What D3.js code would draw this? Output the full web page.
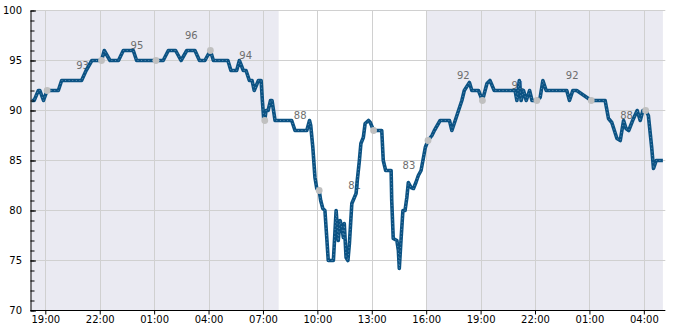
<!DOCTYPE html>
<html>
<head>
<meta charset="utf-8">
<script src="https://cdn.jsdelivr.net/npm/d3@7/dist/d3.min.js"></script>
<style>
body { margin: 0; background: #fff; }
svg text { font-family: "DejaVu Sans", sans-serif; }
</style>
</head>
<body>
<svg id="chart" width="685" height="330"></svg>
<script>
// readings as clock times, the day rolls over when the clock goes back past midnight
var times = ["18:15","18:23","18:37","18:42","18:54","19:06","19:43","19:54","21:00","21:15","21:34","22:06",
  "22:15","22:34","23:02","23:18","23:51","00:02","01:30","01:47","02:11","02:29","02:48","03:15","03:30",
  "03:48","04:06","04:16","05:04","05:14","05:33","05:42","05:55","06:04","06:15","06:24","06:31","06:45",
  "06:54","06:58","07:03","07:06","07:10","07:17","07:25","07:30","07:40","08:35","08:46","09:25","09:34",
  "09:38","09:45","09:52","09:58","10:06","10:11","10:18","10:25","10:31","10:36","10:53","11:02","11:06",
  "11:09","11:15","11:21","11:26","11:29","11:35","11:41","11:46","11:54","12:01","12:08","12:12","12:19",
  "12:24","12:32","12:38","12:49","12:55","13:06","13:33","13:38","13:46","14:04","14:06","14:11","14:23",
  "14:28","14:31","14:37","14:43","14:50","14:56","15:01","15:10","15:18","15:26","15:34","15:43","15:51",
  "15:57","16:06","16:19","16:27","16:46","17:17","17:25","17:36","17:47","17:58","18:06","18:23","18:31",
  "18:53","19:06","19:21","19:31","19:45","20:54","21:00","21:08","21:14","21:22","21:31","21:42","21:50",
  "22:06","22:17","22:26","22:37","23:45","23:54","00:05","00:18","01:06","01:52","02:03","02:14","02:31",
  "02:42","02:53","03:01","03:10","03:23","03:38","03:48","03:57","04:06","04:15","04:26","04:32","04:41",
  "05:03"];
var values = [91,91,92,92,91,92,92,93,93,94,95,95,
  96,95,95,96,96,95,95,96,96,95,96,96,95,
  95,96,95,95,94,94,95,94,94,93,93,92,93,
  93,91,89,89,90,90,91,91,89,89,88,88,89,
  88.5,86.3,83.3,82.2,82,81,80.2,80,77.3,75,75,80,78.3,
  77,79,78.3,77.3,78.7,75.3,75,76.7,80.7,81.2,81.7,83,85,
  86.7,87.3,88.7,89,88.8,88,88,85,84,84,81,77.2,77,
  76,74.2,77.2,80,80,81.3,82.8,82.3,82.2,82.8,83.5,84,85.3,
  86.3,87,87.5,88,89,89,88,89,90,91,92,92.8,92,
  92,91,92.7,93,92,92,91,93,91,92,91,92,91,
  91,91.3,93,92,92,91,92,92,91,91,89.2,88.8,87.2,
  87,89,88.2,88,89,90,89,90,90,89.5,86.3,84.2,85,
  85];

// grey markers every three hours
var dotTimes = ["19:06","22:06","01:06","04:06","07:06","10:06","13:06","16:06","19:06","22:06","01:06","04:06"];
var dotValues = [92,95,95,96,89,82,88,87,91,91,91,90];

// three hour averages written over the chart
var avgTimes = ["21:03","00:03","03:03","06:03","09:03","12:03","15:03","18:03","21:03","00:03","03:03"];
var avgValues = [93,95,96,94,88,81,83,92,91,92,88];

var tickLabels = ["19:00","22:00","01:00","04:00","07:00","10:00","13:00","16:00","19:00","22:00","01:00","04:00"];
var yTicks = [70,75,80,85,90,95,100];
var shadeTimes = ["18:11","07:52","16:00","05:03"]; // pairs: start,end
var xStart = "18:11", xEnd = "05:11";

function clock(list) {
  var day = 0, prev = -1;
  return list.map(function(t) {
    var p = t.split(":"), m = (+p[0]) * 60 + (+p[1]);
    if (m < prev) day++;
    prev = m;
    return new Date(2024, 0, 1 + day, +p[0], +p[1]);
  });
}
function at(day, t) {
  var p = t.split(":");
  return new Date(2024, 0, 1 + day, +p[0], +p[1]);
}

var svg = d3.select("#chart");
var mLeft = 30.5, mRight = 665.3, mTop = 10.5, mBottom = 310.5;

var x = d3.scaleTime().domain([at(0, xStart), at(2, xEnd)]).range([mLeft, mRight]);
var y = d3.scaleLinear().domain([70, 100]).range([mBottom, mTop]);

var pts = clock(times).map(function(t, i) { return {t: t, v: values[i]}; });
var dots = clock(dotTimes).map(function(t, i) { return {t: t, v: dotValues[i]}; });
var avgs = clock(avgTimes).map(function(t, i) { return {t: t, v: avgValues[i]}; });
var ticks = clock(tickLabels);
var sh = clock(shadeTimes);

// shaded spans
for (var i = 0; i < sh.length; i += 2) {
  svg.append("rect")
    .attr("x", x(sh[i])).attr("y", mTop - 0.5)
    .attr("width", x(sh[i + 1]) - x(sh[i])).attr("height", mBottom - mTop)
    .attr("fill", "#eaeaf2");
}

// grid
var grid = svg.append("g").attr("stroke", "#d0d0d0").attr("stroke-width", 1);
grid.selectAll("line.h").data(yTicks).enter().append("line")
  .attr("x1", mLeft).attr("x2", mRight)
  .attr("y1", function(d) { return y(d); }).attr("y2", function(d) { return y(d); });
grid.selectAll("line.v").data(ticks).enter().append("line")
  .attr("y1", mTop).attr("y2", mBottom)
  .attr("x1", function(d) { return Math.round(x(d)) + 0.5; })
  .attr("x2", function(d) { return Math.round(x(d)) + 0.5; });

// average labels (sit under the line)
svg.append("g").selectAll("text").data(avgs).enter().append("text")
  .attr("x", function(d) { return x(d.t); })
  .attr("y", function(d) { return y(d.v) - 12; })
  .attr("text-anchor", "middle")
  .attr("font-size", 10)
  .attr("fill", "#6e6e6e")
  .text(function(d) { return d.v; });

var line = d3.line()
  .x(function(d) { return x(d.t); })
  .y(function(d) { return y(d.v); });

svg.append("path").datum(pts)
  .attr("d", line)
  .attr("fill", "none")
  .attr("stroke", "#0b5283")
  .attr("stroke-width", 3.6)
  .attr("stroke-linejoin", "round");
// the light specks along the line
svg.append("path").datum(pts)
  .attr("d", line)
  .attr("fill", "none")
  .attr("stroke", "#6d9abd")
  .attr("stroke-width", 0.8)
  .attr("stroke-dasharray", "1 2.6");

svg.append("g").selectAll("circle").data(dots).enter().append("circle")
  .attr("cx", function(d) { return x(d.t); })
  .attr("cy", function(d) { return y(d.v); })
  .attr("r", 3.4)
  .attr("fill", "#c0c0c0");

// axes
var yMinor = svg.append("g").attr("transform", "translate(" + mLeft + ",0)")
  .call(d3.axisLeft(y).tickValues(d3.range(70, 101)).tickSize(-4).tickSizeOuter(0).tickFormat(""));
yMinor.select(".domain").remove();

var yAxis = svg.append("g").attr("transform", "translate(" + mLeft + ",0)")
  .attr("color", "#000")
  .call(d3.axisLeft(y).tickValues(yTicks).tickSize(-5.5).tickSizeOuter(0).tickPadding(8.5));

var xAxis = svg.append("g").attr("transform", "translate(0," + mBottom + ")")
  .attr("color", "#000")
  .call(d3.axisBottom(x).tickValues(ticks).tickSize(4).tickSizeOuter(0).tickPadding(1.5)
    .tickFormat(d3.timeFormat("%H:%M")));
xAxis.select(".domain").attr("d", "M" + mLeft + ",0H" + mRight);

svg.selectAll(".tick text").attr("font-family", "DejaVu Sans").attr("font-size", 10);
</script>
</body>
</html>
